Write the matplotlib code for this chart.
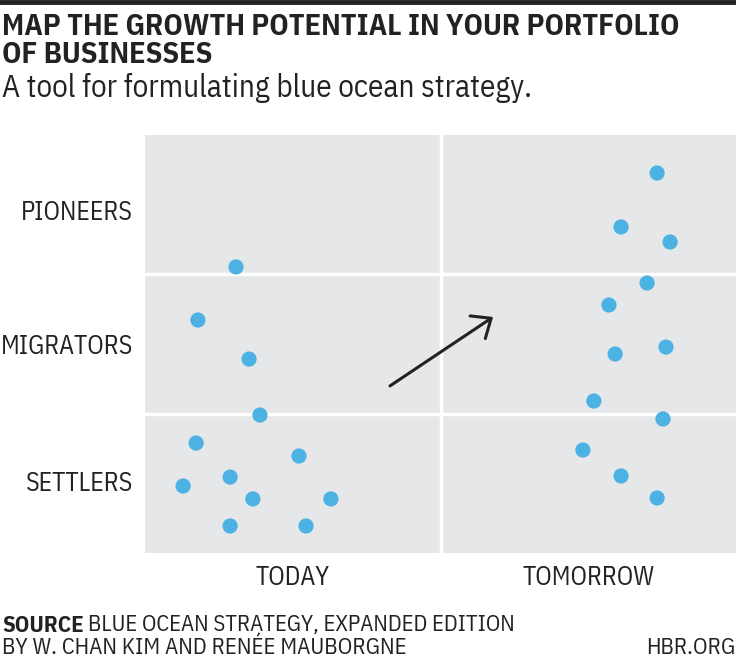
import matplotlib
matplotlib.use("Agg")
import matplotlib.pyplot as plt

# condensed face, falls back to DejaVu Sans Condensed
cond = dict(family=["IBM Plex Sans Condensed", "DejaVu Sans"], fontstretch="condensed")

# data: x in column units (0-1 today, 1-2 tomorrow), y in band units (0-3)
today_x = [0.308, 0.179, 0.352, 0.389, 0.173, 0.521, 0.288, 0.129, 0.365, 0.629, 0.288, 0.545]
today_y = [2.053, 1.672, 1.392, 0.990, 0.789, 0.696, 0.545, 0.481, 0.388, 0.388, 0.194, 0.194]
tomorrow_x = [1.733, 1.611, 1.777, 1.699, 1.570, 1.591, 1.763, 1.519, 1.753, 1.482, 1.611, 1.733]
tomorrow_y = [2.727, 2.340, 2.232, 1.938, 1.780, 1.428, 1.478, 1.091, 0.962, 0.739, 0.553, 0.395]
arrow_start = (0.829, 1.199)
arrow_end = (1.178, 1.694)

row_labels = ["SETTLERS", "MIGRATORS", "PIONEERS"]
row_pos = [0.52, 1.5, 2.46]
col_labels = ["TODAY", "TOMORROW"]
col_pos = [0.5, 1.5]

blue = "#4CB2E4"
bg = "#E6E7E8"
ink = "#222222"

fig = plt.figure(figsize=(7.36, 6.62), dpi=100)
ax = fig.add_axes([145/736, 109/662, 591/736, 418/662])
ax.set_facecolor(bg)
ax.set_xlim(0, 2)
ax.set_ylim(0, 3)
for s in ax.spines.values():
    s.set_visible(False)
ax.axvline(1, color="white", lw=2.5)
for yy in [1, 2]:
    ax.axhline(yy, color="white", lw=2.5)

ax.scatter(today_x, today_y, s=120, color=blue, edgecolors="none", zorder=3)
ax.scatter(tomorrow_x, tomorrow_y, s=120, color=blue, edgecolors="none", zorder=3)

ax.annotate("", xy=arrow_end, xytext=arrow_start,
            arrowprops=dict(arrowstyle="->,head_length=0.58,head_width=0.49",
                            mutation_scale=20, color=ink, lw=2.2, shrinkA=0, shrinkB=0))

ax.set_yticks(row_pos)
ax.set_yticklabels(row_labels)
ax.set_xticks(col_pos)
ax.set_xticklabels(col_labels)
ax.tick_params(axis="y", length=0, labelsize=18.5, labelcolor=ink, pad=8.5)
ax.tick_params(axis="x", length=0, labelsize=18.5, labelcolor=ink, pad=8.5)
for t in ax.get_xticklabels() + ax.get_yticklabels():
    t.set_fontfamily(cond["family"])
    t.set_fontstretch("condensed")

# top rule
fig.add_artist(plt.Line2D([0, 1], [1 - 2/662, 1 - 2/662], color=ink, lw=3.5))

fig.text(2/736, 1 - 27/662, "MAP THE GROWTH POTENTIAL IN YOUR PORTFOLIO",
         fontsize=21.7, fontweight="bold", color=ink, va="center", **cond)
fig.text(2/736, 1 - 55/662, "OF BUSINESSES",
         fontsize=21.7, fontweight="bold", color=ink, va="center", **cond)
fig.text(2/736, 1 - 88/662, "A tool for formulating blue ocean strategy.",
         fontsize=22.4, color=ink, va="center", **cond)

fig.text(2/736, 1 - 625/662, "SOURCE", fontsize=16.5, fontweight="bold", color=ink, va="center", **cond)
fig.text(88/736, 1 - 625/662, "BLUE OCEAN STRATEGY, EXPANDED EDITION", fontsize=16.3, color=ink, va="center", **cond)
fig.text(2/736, 1 - 648/662, "BY W. CHAN KIM AND RENÉE MAUBORGNE", fontsize=16.5, color=ink, va="center", **cond)
fig.text(1 - 1/736, 1 - 648/662, "HBR.ORG", fontsize=16.5, color=ink, va="center", ha="right", **cond)

fig.savefig("out.png", dpi=100)
